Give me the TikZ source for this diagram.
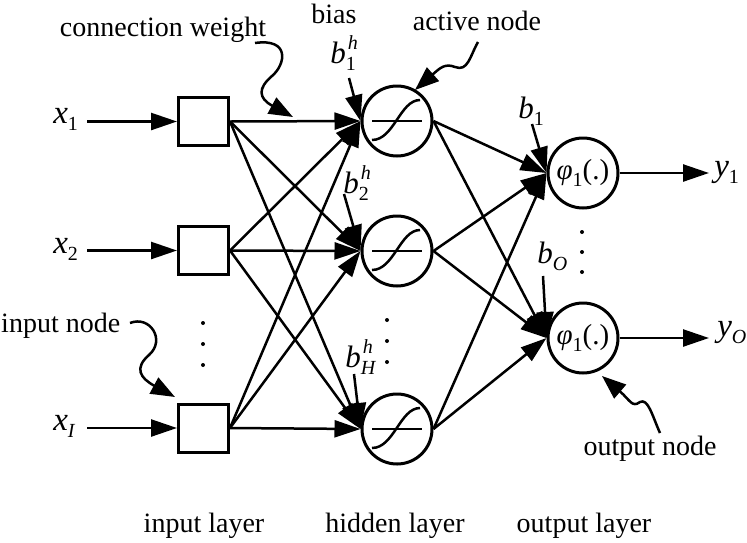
\documentclass[tikz,border=0pt]{standalone}
\usepackage{fontspec}
\setmainfont{Liberation Serif}
\usetikzlibrary{arrows.meta}
\newcommand{\scr}[1]{{\fontsize{20}{20}\selectfont #1}}
\newcommand{\lsub}[2]{#1\raisebox{-7pt}{\scr{#2}}}
\newcommand{\lsubsup}[3]{#1\makebox[0pt][l]{\hspace{2pt}\raisebox{14pt}{\scr{#3}}}\raisebox{-7pt}{\scr{#2}}}
\begin{document}
\begin{tikzpicture}[x=1pt,y=-1pt,
  font=\fontsize{28}{32}\selectfont,
  line width=2.5pt,
  >={Triangle[length=26pt,width=17pt]},
  sq/.style={draw, line width=3pt, minimum width=50pt, minimum height=48pt, inner sep=0pt},
  neuron/.style={draw, circle, line width=3pt, minimum size=70pt, inner sep=0pt},
  lbl/.style={anchor=base, inner sep=0pt},
  var/.style={anchor=base west, inner sep=0pt, font=\fontsize{33}{36}\selectfont},
  bvar/.style={anchor=base west, inner sep=0pt, font=\fontsize{31}{34}\selectfont},
  dotv/.style={circle, fill, inner sep=0pt, minimum size=4pt},
  squig/.style={->, >={Triangle[length=24pt,width=18pt]}}
]
\useasboundingbox (0,0) rectangle (747,542);

% input squares
\node[sq] (i1) at (203.5,121.5) {};
\node[sq] (i2) at (203.5,250.5) {};
\node[sq] (i3) at (203.5,428) {};
% hidden neurons
\node[neuron] (h1) at (397,121) {};
\node[neuron] (h2) at (397,251) {};
\node[neuron] (h3) at (397,429) {};
% output neurons
\node[neuron, font=\fontsize{29}{32}\selectfont] (o1) at (583,173) {\lsub{\textit{φ}}{1}(.)};
\node[neuron, font=\fontsize{29}{32}\selectfont] (o2) at (583,338) {\lsub{\textit{φ}}{1}(.)};

% sigmoid symbols
\foreach \n in {h1,h2,h3}{
  \begin{scope}[shift={(\n.center)}]
    \draw (-25,0) -- (25,0);
    \draw (-25,19) .. controls (-3,19) and (3,-21) .. (23,-21);
  \end{scope}
}

% input labels and arrows
\node[var] (x1) at (52,123) {\lsub{\textit{x}}{1}};
\node[var] (x2) at (52,253) {\lsub{\textit{x}}{2}};
\node[var] (x3) at (52,430) {\lsub{\textit{x}}{\textit{I}}};
\coordinate (xs1) at (87,121.5);
\coordinate (xs2) at (87,250.5);
\coordinate (xs3) at (87,428);
\draw[->] (xs1) -- (i1.west);
\draw[->] (xs2) -- (i2.west);
\draw[->] (xs3) -- (i3.west);

% input -> hidden
\foreach \a in {i1,i2,i3}{
  \foreach \b in {h1,h2,h3}{
    \draw[->] (\a.east) -- (\b.west);
  }
}
% hidden -> output
\foreach \a in {h1,h2,h3}{
  \foreach \b in {o1,o2}{
    \draw[->] (\a.east) -- (\b.west);
  }
}

% outputs
\coordinate (ye1) at (709,173);
\coordinate (ye2) at (709,338);
\draw[->] (o1.east) -- (ye1);
\draw[->] (o2.east) -- (ye2);
\node[var] (y1) at (713,176) {\lsub{\textit{y}}{1}};
\node[var] (y2) at (716,336) {\lsub{\textit{y}}{\textit{O}}};

% biases
\node[bvar] (bh1) at (329,63) {\lsubsup{\textit{b}}{1}{\textit{h}}};
\node[bvar] (bh2) at (342,193) {\lsubsup{\textit{b}}{2}{\textit{h}}};
\node[bvar] (bh3) at (344,367) {\lsubsup{\textit{b}}{\textit{H}}{\textit{h}}};
\node[bvar] (bo1) at (517,118) {\lsub{\textit{b}}{1}};
\node[bvar] (bo2) at (536,263) {\lsub{\textit{b}}{\textit{O}}};
\coordinate (sbh1) at (349,78);
\coordinate (sbh2) at (344,194);
\coordinate (sbh3) at (354,374);
\coordinate (sbo1) at (532,124);
\coordinate (sbo2) at (543,276);
\draw[->] (sbh1) -- (h1.west);
\draw[->] (sbh2) -- (h2.west);
\draw[->] (sbh3) -- (h3.west);
\draw[->] (sbo1) -- (o1.west);
\draw[->] (sbo2) -- (o2.west);

% dots
\foreach \y in {323,344,365} \node[dotv] at (203,\y) {};
\foreach \y in {320,341,362} \node[dotv] at (387,\y) {};
\foreach \y in {232,252,272} \node[dotv] at (582,\y) {};

% annotation labels
\node[lbl] (tcw) at (163,36) {connection weight};
\node[lbl] (tbias) at (334,23) {bias};
\node[lbl] (tact) at (477,30) {active node};
\node[lbl, anchor=base west] (tin) at (0,332) {input node};
\node[lbl] (tout) at (650,455) {output node};
\node[lbl] (lin) at (204,532) {input layer};
\node[lbl] (lhid) at (395,532) {hidden layer};
\node[lbl] (lout) at (584,532) {output layer};

% squiggly pointer arrows
\coordinate (cwS) at (255,43);
\coordinate (cwT) at (293,117);
\draw[squig] (cwS) .. controls (290,38) and (286,64) .. (272,76) .. controls (258,88) and (258,98) .. (cwT);
\coordinate (anS) at (478,42);
\coordinate (anT) at (415,90);
\draw[squig] (anS) .. controls (470,56) and (468,72) .. (455,67) .. controls (445,63) and (440,68) .. (anT);
\coordinate (inS) at (130,323);
\coordinate (inT) at (175,397);
\draw[squig] (inS) .. controls (150,315) and (166,340) .. (149,355) .. controls (134,368) and (140,378) .. (inT);
\coordinate (onS) at (660,433);
\coordinate (onT) at (602,376);
\draw[squig] (onS) .. controls (652,415) and (648,398) .. (640,402) .. controls (632,408) and (630,400) .. (onT);
\end{tikzpicture}
\end{document}
